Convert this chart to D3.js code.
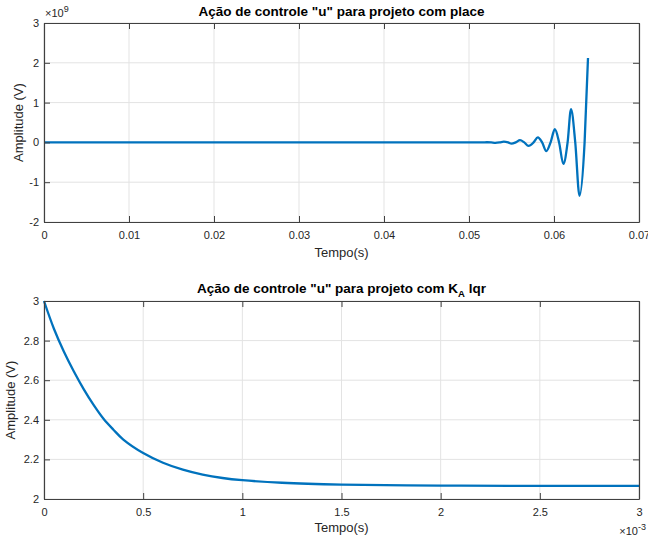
<!DOCTYPE html>
<html>
<head>
<meta charset="utf-8">
<script src="https://cdn.jsdelivr.net/npm/d3@7"></script>
<style>
  html, body { margin: 0; padding: 0; background: #fff; }
  svg { display: block; font-family: "Liberation Sans", Arial, Helvetica, sans-serif; }
</style>
</head>
<body>
<svg id="chart" width="648" height="539"></svg>
<script>
// Control effort, pole placement design (time in s, amplitude in units of 1e9 V)
const placeTime = [0, 0.050, 0.0516, 0.0521, 0.0526, 0.0531, 0.0536, 0.0541, 0.0546,
  0.0550, 0.0555, 0.0560, 0.0565, 0.0570, 0.0576, 0.0581, 0.0586, 0.0591, 0.0596,
  0.0601, 0.0606, 0.0611, 0.0616, 0.0620, 0.0625, 0.0630, 0.0636, 0.0640];
const placeU = [0, 0, 0, 0.004, 0, -0.01, 0, 0.02, 0,
  -0.032, 0, 0.055, 0, -0.088, 0, 0.127, 0, -0.22, 0,
  0.33, 0, -0.54, 0, 0.835, 0, -1.34, 0, 2.12];

// Control effort, LQR design with K_A (time in ms, amplitude in V)
const lqrTime = [0, 0.05, 0.1, 0.15, 0.2, 0.25, 0.3, 0.35, 0.4, 0.5, 0.6, 0.7, 0.8,
  0.9, 1.0, 1.2, 1.5, 2.0, 2.5, 3.0];
const lqrU = [3.0, 2.86, 2.745, 2.645, 2.555, 2.475, 2.405, 2.35, 2.30, 2.232, 2.183,
  2.148, 2.123, 2.106, 2.095, 2.082, 2.073, 2.068, 2.066, 2.066];

const topXTicks = [0, 0.01, 0.02, 0.03, 0.04, 0.05, 0.06, 0.07];
const topYTicks = [-2, -1, 0, 1, 2, 3];
const botXTicks = [0, 0.5, 1, 1.5, 2, 2.5, 3];
const botYTicks = [2, 2.2, 2.4, 2.6, 2.8, 3];

const svg = d3.select("#chart");
const lineColor = "#0072BD";
const axisColor = "#404040";
const textColor = "#262626";
const gridColor = "#e3e3e3";
const tickFont = "11px";

function panel(opts) {
  const { left, right, top, bottom, xDomain, yDomain, xTicks, yTicks, xFmt, yFmt, xs, ys, curve } = opts;
  const x = d3.scaleLinear().domain(xDomain).range([left, right]);
  const y = d3.scaleLinear().domain(yDomain).range([bottom, top]);
  const g = svg.append("g");

  // grid
  g.append("g").selectAll("line").data(xTicks).join("line")
    .attr("x1", d => x(d)).attr("x2", d => x(d))
    .attr("y1", top).attr("y2", bottom)
    .attr("stroke", gridColor).attr("stroke-width", 1);
  g.append("g").selectAll("line").data(yTicks).join("line")
    .attr("x1", left).attr("x2", right)
    .attr("y1", d => y(d)).attr("y2", d => y(d))
    .attr("stroke", gridColor).attr("stroke-width", 1);

  // data line
  const line = d3.line().x((d, i) => x(xs[i])).y(d => y(d)).curve(curve);
  g.append("path").datum(ys)
    .attr("d", line)
    .attr("fill", "none")
    .attr("stroke", lineColor)
    .attr("stroke-width", 2.3)
    .attr("stroke-linejoin", "round");

  // axes with inward ticks (box on all sides)
  const tl = 6;
  const axB = d3.axisBottom(x).tickValues(xTicks).tickSizeInner(-tl).tickSizeOuter(0).tickPadding(9).tickFormat(xFmt);
  const axL = d3.axisLeft(y).tickValues(yTicks).tickSizeInner(-tl).tickSizeOuter(0).tickPadding(5).tickFormat(yFmt);
  const axT = d3.axisTop(x).tickValues(xTicks).tickSizeInner(-tl).tickSizeOuter(0).tickFormat("");
  const axR = d3.axisRight(y).tickValues(yTicks).tickSizeInner(-tl).tickSizeOuter(0).tickFormat("");

  const style = sel => {
    sel.selectAll("path").attr("stroke", axisColor).attr("stroke-width", 1.2);
    sel.selectAll("line").attr("stroke", axisColor).attr("stroke-width", 1);
    sel.selectAll("text").attr("fill", textColor).style("font-size", tickFont)
      .style("font-family", "'Liberation Sans', Arial, sans-serif");
  };
  g.append("g").attr("transform", `translate(0,${bottom})`).call(axB).call(style);
  g.append("g").attr("transform", `translate(${left},0)`).call(axL).call(style);
  g.append("g").attr("transform", `translate(0,${top})`).call(axT).call(style);
  g.append("g").attr("transform", `translate(${right},0)`).call(axR).call(style);
  return { x, y, g };
}

const L = 44, R = 639;

// Top panel: place
panel({
  left: L, right: R, top: 23, bottom: 222,
  xDomain: [0, 0.07], yDomain: [-2, 3],
  xTicks: topXTicks, yTicks: topYTicks,
  xFmt: d => d === 0 ? "0" : d3.format(".2f")(d),
  yFmt: d => String(d),
  xs: placeTime, ys: placeU, curve: d3.curveMonotoneX
});

// Bottom panel: LQR
panel({
  left: L, right: R, top: 301, bottom: 499,
  xDomain: [0, 3], yDomain: [2, 3],
  xTicks: botXTicks, yTicks: botYTicks,
  xFmt: d => String(d),
  yFmt: d => String(d),
  xs: lqrTime, ys: lqrU, curve: d3.curveCatmullRom.alpha(0.5)
});

const cx = (L + R) / 2;

// Titles
svg.append("text").attr("x", cx).attr("y", 16)
  .attr("text-anchor", "middle").attr("font-weight", "bold").attr("font-size", "13.5px")
  .attr("fill", "#000").text('Ação de controle "u" para projeto com place');

const t2 = svg.append("text").attr("x", cx).attr("y", 293)
  .attr("text-anchor", "middle").attr("font-weight", "bold").attr("font-size", "13.5px")
  .attr("fill", "#000");
t2.append("tspan").text('Ação de controle "u" para projeto com K');
t2.append("tspan").attr("font-size", "9.5px").attr("dy", 4).text("A");
t2.append("tspan").attr("dy", -4).text(" lqr");

// Axis labels
[257, 532].forEach(yy => {
  svg.append("text").attr("x", cx).attr("y", yy).attr("text-anchor", "middle")
    .attr("font-size", "13px").attr("fill", textColor).text("Tempo(s)");
});
[[23, 122.5], [15, 400]].forEach(([xx, yy]) => {
  svg.append("text").attr("transform", `translate(${xx},${yy}) rotate(-90)`)
    .attr("text-anchor", "middle").attr("font-size", "13px").attr("fill", textColor)
    .text("Amplitude (V)");
});

// Exponent multipliers
const e1 = svg.append("text").attr("x", 45).attr("y", 17).attr("font-size", "11px").attr("fill", textColor);
e1.append("tspan").text("×10");
e1.append("tspan").attr("dy", -5).attr("font-size", "9px").text("9");

const e2 = svg.append("text").attr("x", 646).attr("y", 535).attr("text-anchor", "end")
  .attr("font-size", "11px").attr("fill", textColor);
e2.append("tspan").text("×10");
e2.append("tspan").attr("dy", -5).attr("font-size", "9px").text("-3");
</script>
</body>
</html>
